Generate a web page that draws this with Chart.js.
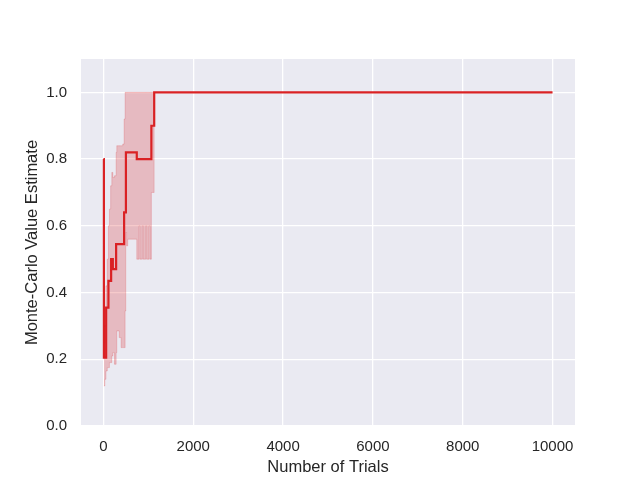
<!DOCTYPE html>
<html>
<head>
<meta charset="utf-8">
<script src="https://cdn.jsdelivr.net/npm/chart.js@4/dist/chart.umd.min.js"></script>
<style>
  html, body { margin: 0; padding: 0; background: #ffffff; }
  canvas { display: block; }
</style>
</head>
<body>
<canvas id="myChart" width="640" height="480"></canvas>
<script>
// mean estimate (step line, value holds from each trial onward)
var meanTrials = [0, 10, 60, 111, 171, 209, 282, 460, 500, 742, 1067, 1130, 10000];
var meanValues = [0.80, 0.205, 0.355, 0.435, 0.50, 0.47, 0.545, 0.64, 0.82, 0.80, 0.90, 1.00, 1.00];

// confidence band
var bandTrials = [10, 30, 55, 85, 111, 133, 160, 186, 209, 245, 282, 297, 350, 393, 430, 460, 482, 497, 515, 540, 742, 793, 810, 867, 885, 942, 960, 1016, 1034, 1067, 1130];
var bandUpper  = [0.25, 0.30, 0.42, 0.50, 0.60, 0.65, 0.72, 0.76, 0.745, 0.75, 0.82, 0.84, 0.84, 0.84, 0.845, 0.92, 1.0, 1.0, 1.0, 1.0, 1.0, 1.0, 1.0, 1.0, 1.0, 1.0, 1.0, 1.0, 1.0, 1.0, 1.0];
var bandLower  = [0.12, 0.14, 0.165, 0.175, 0.175, 0.19, 0.19, 0.21, 0.22, 0.185, 0.22, 0.285, 0.265, 0.235, 0.235, 0.235, 0.345, 0.58, 0.54, 0.56, 0.50, 0.60, 0.50, 0.60, 0.50, 0.60, 0.50, 0.60, 0.50, 0.70, 1.0];

var xTicks = [0, 2000, 4000, 6000, 8000, 10000];
var yTicks = [0.0, 0.2, 0.4, 0.6, 0.8, 1.0];

function toPoints(xs, ys) {
    var pts = [];
    for (var i = 0; i < xs.length; i++) {
        pts.push({x: xs[i], y: ys[i]});
    }
    return pts;
}

var red = "rgb(218,34,36)";
var bandFill = "rgba(218,34,36,0.24)";
var textColor = "#262626";
var fontFamily = "Arial, 'Liberation Sans', sans-serif";

// seaborn darkgrid background
var plotBackground = {
    id: "plotBackground",
    beforeDraw: function (chart) {
        var ctx = chart.ctx;
        var a = chart.chartArea;
        ctx.save();
        ctx.fillStyle = "#ffffff";
        ctx.fillRect(0, 0, chart.width, chart.height);
        ctx.fillStyle = "#eaeaf2";
        ctx.fillRect(a.left, a.top, a.right - a.left, a.bottom - a.top);
        ctx.restore();
    }
};

var data = {
    datasets: [
        {
            label: "upper",
            data: toPoints(bandTrials, bandUpper),
            borderColor: bandFill,
            borderWidth: 0.8,
            pointRadius: 0,
            stepped: true,
            fill: false
        },
        {
            label: "lower",
            data: toPoints(bandTrials, bandLower),
            borderColor: bandFill,
            backgroundColor: bandFill,
            borderWidth: 0.8,
            pointRadius: 0,
            stepped: true,
            fill: "-1"
        },
        {
            label: "Monte-Carlo Value Estimate",
            data: toPoints(meanTrials, meanValues),
            borderColor: red,
            borderWidth: 2.2,
            pointRadius: 0,
            stepped: true,
            fill: false
        }
    ]
};

var options = {
    responsive: false,
    animation: false,
    devicePixelRatio: 1,
    layout: { padding: { top: 59, right: 65, left: 0, bottom: 0 } },
    plugins: {
        legend: { display: false },
        tooltip: { enabled: false }
    },
    scales: {
        x: {
            type: "linear",
            min: -500,
            max: 10500,
            afterBuildTicks: function (scale) {
                scale.ticks = xTicks.map(function (v) { return {value: v}; });
            },
            afterFit: function (scale) { scale.height = 54; },
            border: { display: false },
            grid: { color: "#ffffff", lineWidth: 1.3, drawTicks: false },
            ticks: {
                color: textColor,
                font: { family: fontFamily, size: 15 },
                padding: 12,
                maxRotation: 0,
                callback: function (v) { return String(v); }
            },
            title: {
                display: true,
                text: "Number of Trials",
                color: textColor,
                font: { family: fontFamily, size: 16.5 },
                padding: { top: 0, bottom: 3 }
            }
        },
        y: {
            type: "linear",
            min: 0,
            max: 1.1,
            afterBuildTicks: function (scale) {
                scale.ticks = yTicks.map(function (v) { return {value: v}; });
            },
            afterFit: function (scale) { scale.width = 81; },
            border: { display: false },
            grid: { color: "#ffffff", lineWidth: 1.3, drawTicks: false },
            ticks: {
                color: textColor,
                font: { family: fontFamily, size: 15 },
                padding: 14,
                callback: function (v) { return Number(v).toFixed(1); }
            },
            title: {
                display: true,
                text: "Monte-Carlo Value Estimate",
                color: textColor,
                font: { family: fontFamily, size: 16.5 },
                padding: { top: 23, bottom: 0 }
            }
        }
    }
};

var ctx = document.getElementById("myChart").getContext("2d");
var myChart = new Chart(ctx, {
    type: "line",
    data: data,
    options: options,
    plugins: [plotBackground]
});
</script>
</body>
</html>
